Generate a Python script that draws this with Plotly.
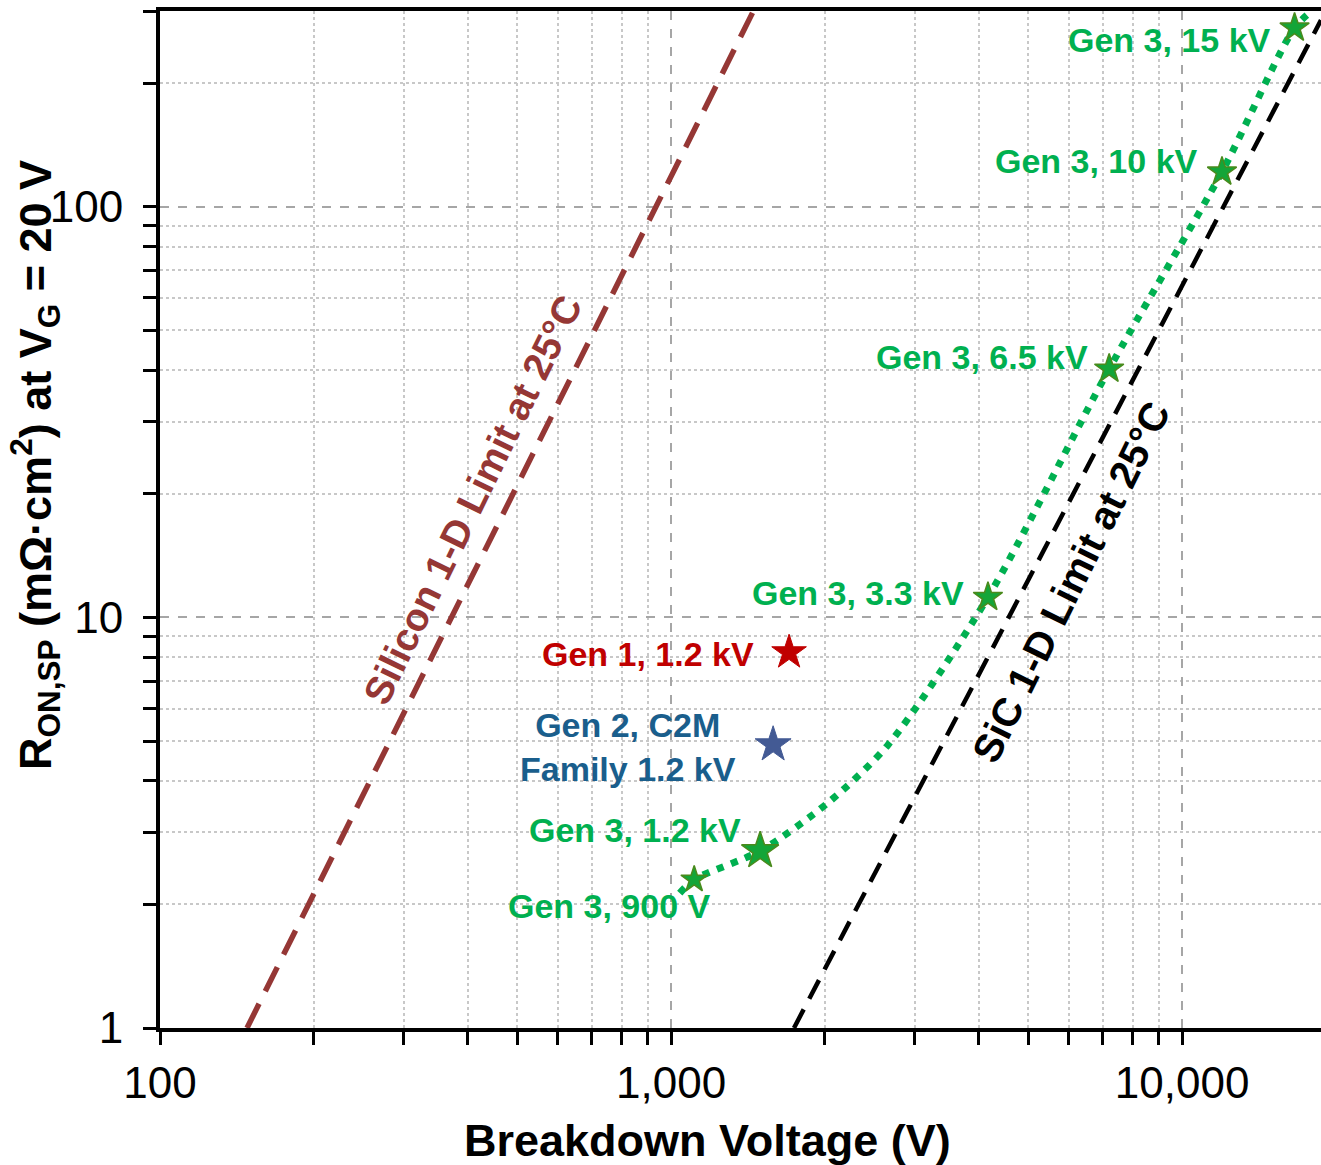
import math
import plotly.graph_objects as go

# ---------------- data ----------------
gen3_labels = ["Gen 3, 900 V", "Gen 3, 1.2 kV", "Gen 3, 3.3 kV", "Gen 3, 6.5 kV", "Gen 3, 10 kV", "Gen 3, 15 kV"]
gen3_bv = [1110, 1494, 4170, 7200, 11970, 16600]
gen3_ron = [2.30, 2.70, 11.2, 40.3, 121.7, 273]

gen3_trend_bv = [1040, 1110, 1494, 2030, 2660, 4170, 7200, 11970, 16600, 17950]
gen3_trend_ron = [2.13, 2.30, 2.70, 3.54, 4.90, 11.2, 40.3, 121.7, 273, 300]

gen1_bv = [1702]
gen1_ron = [8.22]
gen2_bv = [1584]
gen2_ron = [4.90]

si_limit_bv = [148, 1600]
si_limit_ron = [1.0, 384]
sic_limit_bv = [1740, 18700]
sic_limit_ron = [1.0, 285]

x_tick_vals = [100, 1000, 10000]
x_tick_text = ["100", "1,000", "10,000"]
y_tick_vals = [1, 10, 100]
y_tick_text = ["1", "10", "100"]

# ---------------- layout geometry ----------------
W, H = 1321, 1165
L, R, T, B = 160, 1321, 11, 1028


def px(xpix):
    return (xpix - L) / (R - L)


def py(ypix):
    return (B - ypix) / (B - T)


FONT = "Arial, Liberation Sans, sans-serif"
GREEN = "#00B050"
RED_TXT = "#C00000"
BLUE_TXT = "#1A5E8C"
SI_COLOR = "#953735"

fig = go.Figure()

fig.add_trace(go.Scatter(x=si_limit_bv, y=si_limit_ron, mode="lines",
                         line=dict(color=SI_COLOR, width=5.5, dash="27px,14px"),
                         hoverinfo="skip", showlegend=False))
fig.add_trace(go.Scatter(x=sic_limit_bv, y=sic_limit_ron, mode="lines",
                         line=dict(color="black", width=4.5, dash="21px,12px"),
                         hoverinfo="skip", showlegend=False))
fig.add_trace(go.Scatter(x=gen3_trend_bv, y=gen3_trend_ron, mode="lines",
                         line=dict(color=GREEN, width=7, dash="7px,8px", shape="spline", smoothing=0.8),
                         hoverinfo="skip", showlegend=False))

gen3_sizes = [20, 28, 22, 22, 22, 22]
fig.add_trace(go.Scatter(x=gen3_bv, y=gen3_ron, mode="markers", text=gen3_labels,
                         marker=dict(symbol="star", size=gen3_sizes, color="#14A538", opacity=1,
                                     line=dict(color="#4A8A1C", width=1.5)),
                         showlegend=False))
fig.add_trace(go.Scatter(x=gen1_bv, y=gen1_ron, mode="markers",
                         marker=dict(symbol="star", size=26, color="#C00000", opacity=1,
                                     line=dict(color="#C00000", width=1)),
                         showlegend=False))
fig.add_trace(go.Scatter(x=gen2_bv, y=gen2_ron, mode="markers",
                         marker=dict(symbol="star", size=27, color="#435A94", opacity=1,
                                     line=dict(color="#435A94", width=1)),
                         showlegend=False))

x_minor = [d * m for d in (100, 1000, 10000) for m in range(2, 10)]
y_minor = [d * m for d in (1, 10, 100) for m in range(2, 10)]

axis_common = dict(
    type="log", showline=True, linewidth=4, linecolor="black",
    ticks="outside", ticklen=13, tickwidth=3, tickcolor="black",
    showgrid=True, gridcolor="#A6A6A6", griddash="dash", gridwidth=1.5,
    zeroline=False, tickfont=dict(size=44, family=FONT, color="black"),
)

fig.update_xaxes(range=[2, math.log10(18700)], tickvals=x_tick_vals, ticktext=x_tick_text,
                 mirror=True,
                 minor=dict(tickvals=x_minor, ticks="outside", ticklen=13, tickwidth=3,
                            tickcolor="black", showgrid=True, gridcolor="#C8C8C8",
                            griddash="dot", gridwidth=1.5),
                 **axis_common)
fig.update_yaxes(range=[0, math.log10(300)], tickvals=y_tick_vals, ticktext=y_tick_text,
                 mirror=False, ticklabelstandoff=11,
                 minor=dict(tickvals=y_minor, ticks="outside", ticklen=13, tickwidth=3,
                            tickcolor="black", showgrid=True, gridcolor="#C8C8C8",
                            griddash="dot", gridwidth=1.5),
                 **axis_common)

ann = []


def label(text, xr, yc, color, anchor="right", size=34):
    ann.append(dict(text=text, x=px(xr), y=py(yc), xref="paper", yref="paper",
                    xanchor=anchor, yanchor="middle", showarrow=False,
                    font=dict(size=size, family=FONT, color=color, weight="bold")))


label("Gen 3, 15 kV", 1273, 40, GREEN)
label("Gen 3, 10 kV", 1200, 161, GREEN)
label("Gen 3, 6.5 kV", 1090, 357, GREEN)
label("Gen 3, 3.3 kV", 966, 593, GREEN)
label("Gen 1, 1.2 kV", 756, 654, RED_TXT)
label("Gen 2, C2M<br>Family 1.2 kV", 628, 747, BLUE_TXT, anchor="center")
label("Gen 3, 1.2 kV", 743, 830, GREEN)
label("Gen 3, 900 V", 713, 906, GREEN)

# rotated line labels
ann.append(dict(text="Silicon 1-D Limit at 25°C", x=px(472), y=py(500), xref="paper", yref="paper",
                xanchor="center", yanchor="middle", showarrow=False, textangle=-64,
                font=dict(size=39, family=FONT, color=SI_COLOR, weight="bold")))
ann.append(dict(text="SiC 1-D Limit at 25°C", x=px(1071), y=py(582), xref="paper", yref="paper",
                xanchor="center", yanchor="middle", showarrow=False, textangle=-63.7,
                font=dict(size=40, family=FONT, color="black", weight="bold")))

# axis titles
ann.append(dict(text="Breakdown Voltage (V)", x=px(707), y=py(1140), xref="paper", yref="paper",
                xanchor="center", yanchor="middle", showarrow=False,
                font=dict(size=45, family=FONT, color="black", weight="bold")))
ann.append(dict(text="R<sub>ON,SP</sub> (mΩ·cm<sup>2</sup>) at V<sub>G</sub> = 20 V",
                x=px(35), y=py(465), xref="paper", yref="paper",
                xanchor="center", yanchor="middle", showarrow=False, textangle=-90,
                font=dict(size=45, family=FONT, color="black", weight="bold")))

fig.update_layout(
    width=W, height=H,
    margin=dict(l=L, r=W - R, t=T, b=H - B),
    plot_bgcolor="white", paper_bgcolor="white",
    showlegend=False, annotations=ann,
    font=dict(family=FONT),
)

fig.write_html("out.html")
